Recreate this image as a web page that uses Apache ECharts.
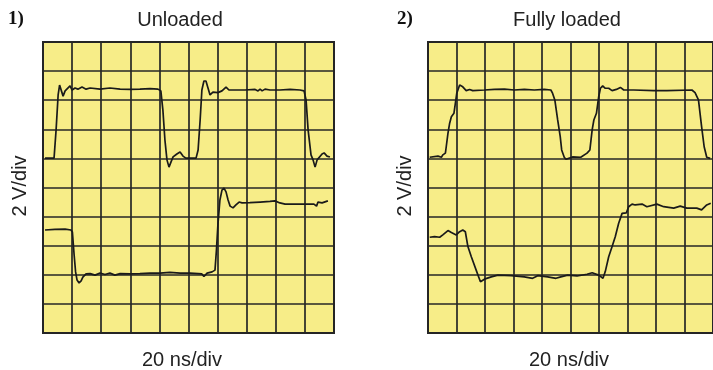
<!DOCTYPE html>
<html>
<head>
<meta charset="utf-8">
<script src="https://cdn.jsdelivr.net/npm/echarts@6/dist/echarts.min.js"></script>
<style>
    html, body { margin: 0; padding: 0; background: #fff; }
    #chart { width: 713px; height: 370px; }
</style>
</head>
<body>
<div id="chart"></div>
<script>
// traces, [x div, y div] (10 x 10 divisions, y from bottom)
var unloadedTop = [
    [0.07, 6.01], [0.38, 6.01], [0.45, 6.98], [0.52, 8.18], [0.57, 8.52], [0.62, 8.52], [0.69, 8.14],
    [0.76, 8.32], [0.82, 8.38], [0.93, 8.49], [1.00, 8.35], [1.10, 8.42], [1.20, 8.38], [1.34, 8.45],
    [1.48, 8.38], [1.62, 8.42], [1.96, 8.38], [2.30, 8.42], [2.65, 8.38], [2.99, 8.37], [3.33, 8.38],
    [3.68, 8.40], [3.95, 8.38], [4.05, 8.32], [4.12, 7.66], [4.19, 6.63], [4.26, 5.95], [4.33, 5.70],
    [4.40, 5.88], [4.47, 6.05], [4.60, 6.15], [4.71, 6.22], [4.81, 6.08], [4.91, 6.01], [5.26, 6.01],
    [5.33, 6.29], [5.40, 7.32], [5.46, 8.35], [5.53, 8.66], [5.60, 8.66], [5.67, 8.42], [5.74, 8.18],
    [5.84, 8.28], [6.01, 8.26], [6.15, 8.32], [6.29, 8.45], [6.39, 8.35], [6.60, 8.35], [6.94, 8.35],
    [7.29, 8.37], [7.39, 8.32], [7.46, 8.38], [7.53, 8.32], [7.63, 8.38], [7.80, 8.35], [8.14, 8.35],
    [8.49, 8.37], [8.83, 8.35], [8.97, 8.32], [9.04, 8.01], [9.11, 6.98], [9.21, 6.12], [9.28, 5.95],
    [9.35, 5.70], [9.42, 5.95], [9.48, 6.01], [9.59, 6.15], [9.66, 6.19], [9.76, 6.08], [9.86, 6.05]
];
var unloadedBottom = [
    [0.07, 3.54], [0.41, 3.56], [0.76, 3.57], [0.96, 3.54], [1.01, 3.47], [1.07, 2.68], [1.12, 2.10],
    [1.17, 1.82], [1.24, 1.72], [1.31, 1.79], [1.37, 1.92], [1.48, 2.03], [1.62, 2.04], [1.79, 1.99],
    [1.96, 2.06], [2.13, 2.01], [2.30, 2.06], [2.47, 1.99], [2.65, 2.04], [2.99, 2.03], [3.33, 2.04],
    [3.68, 2.06], [4.02, 2.06], [4.36, 2.08], [4.71, 2.06], [5.05, 2.06], [5.33, 2.04], [5.46, 2.03],
    [5.53, 1.94], [5.64, 2.06], [5.81, 2.10], [5.91, 2.16], [5.96, 2.85], [6.01, 3.71], [6.08, 4.57],
    [6.15, 4.91], [6.22, 4.98], [6.29, 4.85], [6.36, 4.57], [6.43, 4.36], [6.53, 4.30], [6.63, 4.40],
    [6.74, 4.50], [6.84, 4.47], [7.11, 4.48], [7.46, 4.50], [7.80, 4.52], [7.97, 4.54], [8.14, 4.47],
    [8.32, 4.43], [8.66, 4.43], [9.00, 4.43], [9.31, 4.43], [9.40, 4.36], [9.45, 4.50], [9.59, 4.47],
    [9.79, 4.54]
];
var loadedTop = [
    [0.06, 6.04], [0.35, 6.08], [0.47, 6.04], [0.52, 6.12], [0.61, 6.18], [0.64, 6.40], [0.70, 6.86],
    [0.76, 7.21], [0.82, 7.43], [0.91, 7.55], [0.96, 7.89], [1.01, 8.24], [1.11, 8.52], [1.22, 8.46],
    [1.34, 8.33], [1.46, 8.37], [1.57, 8.33], [1.63, 8.37], [1.98, 8.35], [2.33, 8.37], [2.68, 8.38],
    [3.03, 8.35], [3.38, 8.37], [3.73, 8.35], [4.08, 8.37], [4.31, 8.35], [4.37, 8.24], [4.45, 8.01],
    [4.55, 7.32], [4.64, 6.75], [4.69, 6.29], [4.78, 6.04], [4.84, 5.97], [5.07, 6.05], [5.36, 6.04],
    [5.58, 6.18], [5.68, 6.29], [5.76, 6.98], [5.82, 7.32], [5.91, 7.55], [5.99, 8.12], [6.05, 8.41],
    [6.13, 8.49], [6.22, 8.41], [6.34, 8.41], [6.46, 8.33], [6.61, 8.37], [6.75, 8.44], [6.87, 8.35],
    [7.22, 8.35], [7.92, 8.33], [8.38, 8.33], [9.26, 8.35], [9.37, 8.26], [9.49, 8.01], [9.60, 7.09],
    [9.69, 6.40], [9.78, 6.04], [9.90, 6.00]
];
var loadedBottom = [
    [0.06, 3.29], [0.23, 3.31], [0.41, 3.29], [0.52, 3.37], [0.70, 3.52], [0.82, 3.45], [0.99, 3.37],
    [1.11, 3.48], [1.22, 3.54], [1.31, 3.48], [1.40, 2.97], [1.52, 2.62], [1.69, 2.16], [1.84, 1.76],
    [1.98, 1.85], [2.22, 1.93], [2.45, 1.99], [2.92, 1.97], [3.38, 1.93], [3.67, 1.88], [3.85, 1.97],
    [4.20, 1.93], [4.49, 1.88], [4.66, 1.93], [4.90, 1.99], [5.23, 1.96], [5.58, 2.02], [5.76, 2.07],
    [5.99, 1.99], [6.14, 1.88], [6.22, 2.11], [6.34, 2.62], [6.46, 2.97], [6.57, 3.31], [6.69, 3.77],
    [6.81, 4.11], [6.96, 4.13], [7.04, 4.34], [7.16, 4.43], [7.27, 4.40], [7.51, 4.43], [7.68, 4.34],
    [8.03, 4.43], [8.27, 4.34], [8.62, 4.29], [8.85, 4.36], [9.08, 4.29], [9.43, 4.29], [9.60, 4.23],
    [9.78, 4.40], [9.92, 4.46]
];
var panelTitles = ["Unloaded", "Fully loaded"];
var panelNumbers = ["1)", "2)"];
var yAxisName = "2 V/div";
var xAxisName = "20 ns/div";

var paper = "#f7ed88";
var gridInk = "#262626";
var traceInk = "#1a1a1a";

// one scope screen per panel
var screens = [
    { left: 43, top: 42, width: 291, height: 291 },
    { left: 428, top: 42, width: 286, height: 291 }
];

function divAxis(i) {
    return {
        type: "value",
        gridIndex: i,
        min: 0,
        max: 10,
        interval: 1,
        axisLine: { show: false },
        axisTick: { show: false },
        axisLabel: { show: false },
        splitLine: { show: true, lineStyle: { color: gridInk, width: 1.7 } }
    };
}

function trace(i, data) {
    return {
        type: "line",
        xAxisIndex: i,
        yAxisIndex: i,
        data: data,
        symbol: "none",
        lineStyle: { color: traceInk, width: 1.7 },
        z: 5
    };
}

var labelFont = "Liberation Sans, Arial, sans-serif";
var graphics = [];
screens.forEach(function (s, i) {
    graphics.push({
        type: "text", x: i === 0 ? 16 : 405, y: 19,
        style: { text: panelNumbers[i], font: "bold 19px Liberation Serif, serif", fill: "#111",
                 textAlign: "center", textVerticalAlign: "middle" }
    });
    graphics.push({
        type: "text", x: i === 0 ? 180 : 567, y: 20,
        style: { text: panelTitles[i], font: "20px " + labelFont, fill: "#222",
                 textAlign: "center", textVerticalAlign: "middle" }
    });
    graphics.push({
        type: "text", x: i === 0 ? 182 : 569, y: 360,
        style: { text: xAxisName, font: "20px " + labelFont, fill: "#222",
                 textAlign: "center", textVerticalAlign: "middle" }
    });
    graphics.push({
        type: "text", x: i === 0 ? 20 : 405, y: 186, rotation: Math.PI / 2,
        style: { text: yAxisName, font: "20px " + labelFont, fill: "#222",
                 textAlign: "center", textVerticalAlign: "middle" }
    });
});

var option = {
    backgroundColor: "#ffffff",
    animation: false,
    grid: screens.map(function (s) {
        return {
            left: s.left, top: s.top, width: s.width, height: s.height,
            show: true, backgroundColor: paper, borderColor: gridInk, borderWidth: 2
        };
    }),
    xAxis: [divAxis(0), divAxis(1)],
    yAxis: [divAxis(0), divAxis(1)],
    series: [
        trace(0, unloadedTop), trace(0, unloadedBottom),
        trace(1, loadedTop), trace(1, loadedBottom)
    ],
    graphic: graphics
};

var myChart = echarts.init(document.getElementById("chart"));
myChart.setOption(option);
</script>
</body>
</html>
